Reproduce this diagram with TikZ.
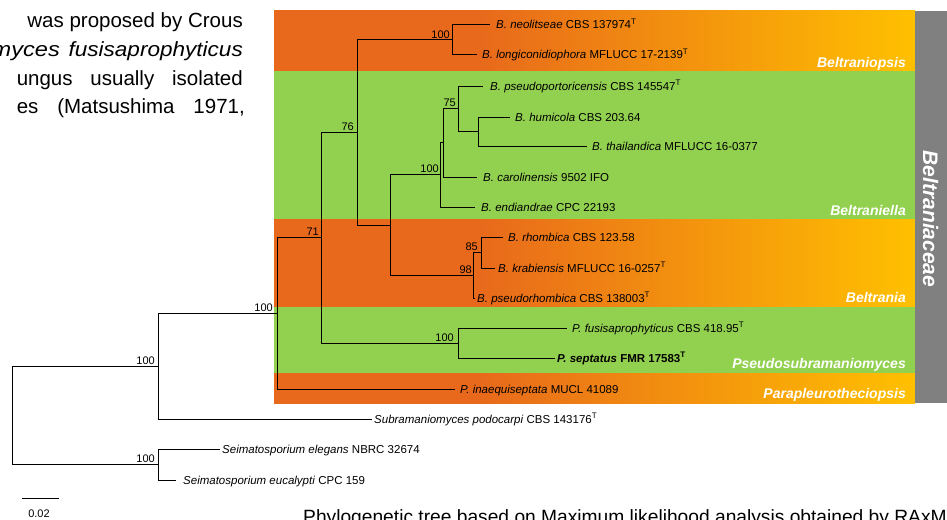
\documentclass[tikz,border=0pt]{standalone}
\usepackage{fontspec}
\setmainfont{Liberation Sans}
\definecolor{orL}{HTML}{E8691B}
\definecolor{orR}{HTML}{FFC000}
\definecolor{grn}{HTML}{92D050}
\definecolor{gry}{HTML}{808080}
\pgfdeclarehorizontalshading{orgrad}{100bp}{color(0bp)=(orL); color(25bp)=(orL); color(41bp)=(orL); color(75bp)=(orR); color(100bp)=(orR)}
\begin{document}
\begin{tikzpicture}[x=1pt,y=-1pt,
  br/.style={line width=1pt, black},
  leaf/.style={font=\fontsize{11.5}{13}\selectfont, anchor=base west, inner sep=0pt},
  bs/.style={font=\fontsize{11}{13}\selectfont, anchor=base east, inner sep=0pt},
  grp/.style={font=\fontsize{14}{16}\selectfont\bfseries\itshape, text=white, anchor=base east, inner sep=0pt},
  para/.style={font=\fontsize{20.5}{25}\selectfont, inner sep=0pt, anchor=base east},
]
\useasboundingbox (0,0) rectangle (947,519);
% ---- clade bands
\shade[shading=orgrad] (274,11) rectangle (915,71);
\fill[grn] (274,71) rectangle (915,219);
\shade[shading=orgrad] (274,219) rectangle (915,307);
\fill[grn] (274,307) rectangle (915,373);
\shade[shading=orgrad] (274,373) rectangle (915,403);
\fill[gry] (915,11) rectangle (947,403);
\node[grp] (gBp) at (906,67) {Beltraniopsis};
\node[grp] (gBl) at (906,215) {Beltraniella};
\node[grp] (gBt) at (906,302) {Beltrania};
\node[grp] (gPs) at (906,368) {Pseudosubramaniomyces};
\node[grp] (gPp) at (906,398) {Parapleurotheciopsis};
\node[font=\fontsize{21}{24}\selectfont\bfseries\itshape, text=white, rotate=-90, anchor=base, inner sep=0pt] (fam) at (923,219) {Beltraniaceae};
% ---- paragraph fragment
\node[para] (p1) at (243,28) {was proposed by Crous};
\node[para] (p2a) at (60,56.5) {\scalebox{1.15}[1]{\itshape myces}};
\node[para] (p2b) at (243,56.5) {\scalebox{1.1}[1]{\itshape fusisaprophyticus}};
\node[para] (p3) at (243,85) {\makebox[226pt][s]{ungus usually isolated}};
\node[para] (p4) at (245,113.5) {\makebox[228pt][s]{es (Matsushima 1971,}};
% ---- internal nodes
\coordinate (R) at (12,415.35);
\coordinate (A) at (158,366.2);
\coordinate (E) at (158,464.5);
\coordinate (B) at (277,313.4);
\coordinate (C) at (321,237.8);
\coordinate (D) at (357,132.6);
\coordinate (G) at (452,40);
\coordinate (F) at (390,225.1);
\coordinate (H) at (440,174.9);
\coordinate (I) at (443,142.9);
\coordinate (J) at (458,108.75);
\coordinate (K) at (478,131.5);
\coordinate (L) at (473,275.25);
\coordinate (M) at (481,252.5);
\coordinate (P) at (458,343);
% ---- leaf tips
\coordinate (t1) at (490,25);
\coordinate (t2) at (477,55);
\coordinate (t3) at (483,86);
\coordinate (t4) at (510,117);
\coordinate (t5) at (587,146);
\coordinate (t6) at (477,177);
\coordinate (t7) at (475,207);
\coordinate (t8) at (503,237);
\coordinate (t9) at (495,268);
\coordinate (t10) at (475,298);
\coordinate (t11) at (567,328);
\coordinate (t12) at (555,358);
\coordinate (t13) at (455,389);
\coordinate (t14) at (372,419);
\coordinate (t15) at (220,449);
\coordinate (t16) at (176,480);
% ---- leaf labels
\node[leaf] (l1) at (496,29) {\textit{B. neolitseae} CBS 137974\textsuperscript{T}};
\node[leaf] (l2) at (482,59) {\textit{B. longiconidiophora} MFLUCC 17-2139\textsuperscript{T}};
\node[leaf] (l3) at (490,90) {\textit{B. pseudoportoricensis} CBS 145547\textsuperscript{T}};
\node[leaf] (l4) at (515,121) {\textit{B. humicola} CBS 203.64};
\node[leaf] (l5) at (592,150) {\textit{B. thailandica} MFLUCC 16-0377};
\node[leaf] (l6) at (483,181) {\textit{B. carolinensis} 9502 IFO};
\node[leaf] (l7) at (481,211) {\textit{B. endiandrae} CPC 22193};
\node[leaf] (l8) at (508,241) {\textit{B. rhombica} CBS 123.58};
\node[leaf] (l9) at (498,272) {\textit{B. krabiensis} MFLUCC 16-0257\textsuperscript{T}};
\node[leaf] (l10) at (477,302) {\textit{B. pseudorhombica} CBS 138003\textsuperscript{T}};
\node[leaf] (l11) at (572,332) {\textit{P. fusisaprophyticus} CBS 418.95\textsuperscript{T}};
\node[leaf] (l12) at (557,362) {\bfseries\textit{P. septatus} FMR 17583\textsuperscript{T}};
\node[leaf] (l13) at (460,393) {\textit{P. inaequiseptata} MUCL 41089};
\node[leaf] (l14) at (374,423) {\textit{Subramaniomyces podocarpi} CBS 143176\textsuperscript{T}};
\node[leaf] (l15) at (222,453) {\textit{Seimatosporium elegans} NBRC 32674};
\node[leaf] (l16) at (183,484) {\textit{Seimatosporium eucalypti} CPC 159};
% ---- branches
\draw[br] (R) |- (A); \draw[br] (R) |- (E);
\draw[br] (A) |- (B); \draw[br] (A) |- (t14);
\draw[br] (E) |- (t15); \draw[br] (E) |- (t16);
\draw[br] (B) |- (C); \draw[br] (B) |- (t13);
\draw[br] (C) |- (D); \draw[br] (C) |- (P);
\draw[br] (D) |- (G); \draw[br] (D) |- (F);
\draw[br] (G) |- (t1); \draw[br] (G) |- (t2);
\draw[br] (F) |- (H); \draw[br] (F) |- (L);
\draw[br] (H) |- (I); \draw[br] (H) |- (t7);
\draw[br] (I) |- (J); \draw[br] (I) |- (t6);
\draw[br] (J) |- (t3); \draw[br] (J) |- (K);
\draw[br] (K) |- (t4); \draw[br] (K) |- (t5);
\draw[br] (L) |- (M); \draw[br] (L) |- (t10);
\draw[br] (M) |- (t8); \draw[br] (M) |- (t9);
\draw[br] (P) |- (t11); \draw[br] (P) |- (t12);
% ---- bootstrap values
\node[bs] (bA) at ([xshift=-3pt,yshift=2pt]A) {100};
\node[bs] (bE) at ([xshift=-3pt,yshift=2pt]E) {100};
\node[bs] (bB) at ([xshift=-4pt,yshift=2pt]B) {100};
\node[bs] (bC) at ([xshift=-2pt,yshift=2pt]C) {71};
\node[bs] (bD) at ([xshift=-3pt,yshift=2pt]D) {76};
\node[bs] (bG) at ([xshift=-2pt,yshift=2pt]G) {100};
\node[bs] (bH) at ([xshift=-1pt,yshift=2pt]H) {100};
\node[bs] (bJ) at ([xshift=-2pt,yshift=2pt]J) {75};
\node[bs] (bP) at ([xshift=-4pt,yshift=2pt]P) {100};
\node[bs] (bM) at ([xshift=-3pt,yshift=2pt]M) {85};
\node[bs] (bL) at ([xshift=-1pt,yshift=2pt]L) {98};
% ---- scale bar
\coordinate (s1) at (22,498);
\coordinate (s2) at (59,498);
\draw[br] (s1) -- (s2);
\node[font=\fontsize{11}{13}\selectfont, anchor=base, inner sep=0pt] (sl) at (39,517) {0.02};
% ---- caption fragment
\node[anchor=base west, inner sep=0pt, font=\fontsize{19.2}{22}\selectfont] (cap) at (303,523) {Phylogenetic tree based on Maximum likelihood analysis obtained by RAxML};
\end{tikzpicture}
\end{document}
